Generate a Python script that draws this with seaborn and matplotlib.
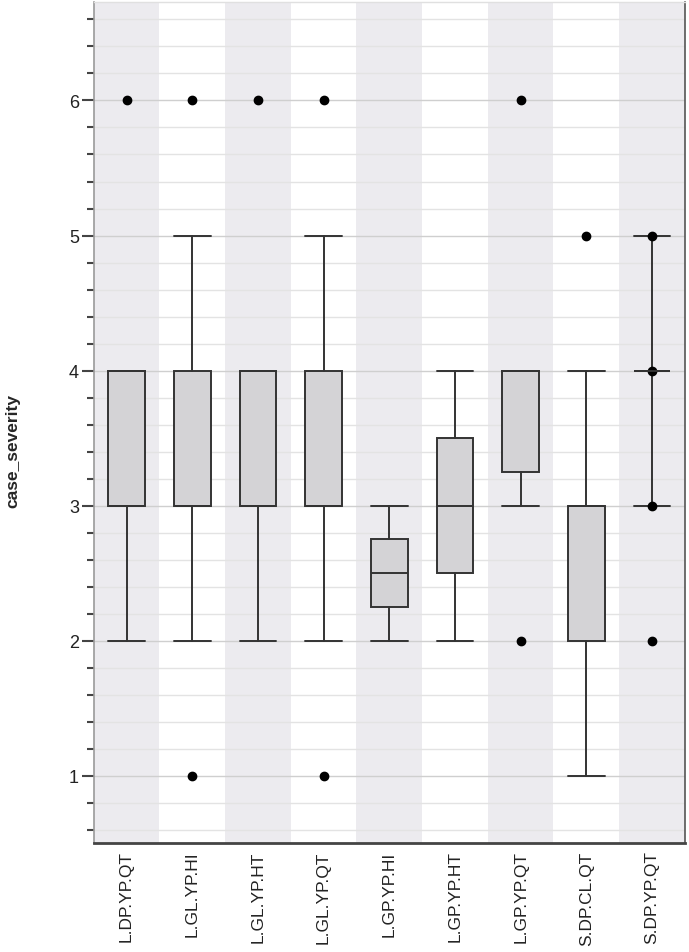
import matplotlib
matplotlib.use("Agg")
import matplotlib.pyplot as plt
import seaborn as sns
import numpy as np

# -------------------------
# Data (summary stats)
# -------------------------
categories = ["L.DP.YP.QT", "L.GL.YP.HI", "L.GL.YP.HT", "L.GL.YP.QT", "L.GP.YP.HI",
              "L.GP.YP.HT", "L.GP.YP.QT", "S.DP.CL.QT", "S.DP.YP.QT"]
q1 = [3, 3, 3, 3, 2.25, 2.5, 3.25, 2, 4]
medians = [3, 3, 3, 3, 2.5, 3, 4, 3, 4]
q3 = [4, 4, 4, 4, 2.75, 3.5, 4, 3, 4]
whisker_low = [2, 2, 2, 2, 2, 2, 3, 1, 3]
whisker_high = [4, 5, 4, 5, 3, 4, 4, 4, 5]
outliers = [[6], [1, 6], [6], [1, 6], [], [], [2, 6], [5], [2, 3, 4, 5]]

sns.set_theme(style="white")
plt.rcParams["font.family"] = ["Liberation Sans", "DejaVu Sans"]

fig = plt.figure(figsize=(6.89, 9.53), dpi=100)
ax = fig.add_axes([0.136, 0.114, 0.858, 0.883])

# alternating background stripes
for i in range(len(categories)):
    if i % 2 == 0:
        ax.axvspan(i - 0.5, i + 0.5, color="#ECEBEF", lw=0, zorder=0)

# horizontal grid
ax.set_ylim(0.5, 6.73)
ax.set_yticks(np.arange(1, 7))
ax.set_yticks(np.arange(0.6, 6.75, 0.2), minor=True)
ax.grid(axis="y", which="major", color="#CFCFCF", lw=1.0, zorder=1)
ax.grid(axis="y", which="minor", color="#E3E3E3", lw=1.0, zorder=1)
ax.set_axisbelow(True)

stats = []
for i, name in enumerate(categories):
    stats.append({"label": name, "q1": q1[i], "med": medians[i], "q3": q3[i],
                  "whislo": whisker_low[i], "whishi": whisker_high[i],
                  "fliers": outliers[i]})

edge = "#333333"
ax.bxp(stats, positions=range(len(categories)), widths=0.56, capwidths=0.56,
       patch_artist=True,
       boxprops=dict(facecolor="#D4D3D6", edgecolor=edge, linewidth=1.4),
       medianprops=dict(color=edge, linewidth=1.4),
       whiskerprops=dict(color=edge, linewidth=1.4),
       capprops=dict(color=edge, linewidth=1.4),
       flierprops=dict(marker="o", markerfacecolor="black", markeredgecolor="black",
                       markersize=6))

ax.set_xlim(-0.5, len(categories) - 0.5)
ax.set_xticks(range(len(categories)))
ax.set_xticklabels(categories, rotation=90, fontsize=12.5, color="#222222")
ax.tick_params(axis="x", length=0, pad=5)
ax.tick_params(axis="y", which="major", direction="out", length=8.5, width=1.5,
               color="#444444", left=True, labelsize=13, labelcolor="#222222", pad=2)
ax.tick_params(axis="y", which="minor", direction="out", length=5, width=1.5,
               color="#444444", left=True, labelleft=False)

ax.set_ylabel("case_severity", fontsize=12.5, fontweight="bold")
ax.yaxis.set_label_coords(-0.124, 0.468)

for side in ["left", "right", "bottom", "top"]:
    ax.spines[side].set_visible(True)
ax.spines["left"].set_color("#9A9A9A")
ax.spines["left"].set_linewidth(1.2)
ax.spines["right"].set_color("#555555")
ax.spines["right"].set_linewidth(1.2)
ax.spines["bottom"].set_color("#444444")
ax.spines["bottom"].set_linewidth(2.0)
ax.spines["top"].set_color("#E0E0E0")
ax.spines["top"].set_linewidth(1.0)

fig.savefig("out.png", dpi=100)
